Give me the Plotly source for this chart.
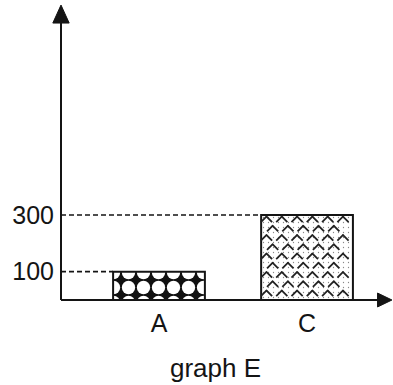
import plotly.graph_objects as go

# Data
categories = ["A", "C"]
values = [100, 300]
ytick_vals = [100, 300]
ytick_text = ["100", "300"]
caption = "graph E"

INK = "#141414"
FONT = "Arial, Liberation Sans, sans-serif"

# Axis geometry (data units)
bar_width = 0.62
x_pos = list(range(len(categories)))
x_range = [-0.662, 1.547]
y_range = [0, 1023.5]
px_per_x = 148.0  # plot width 327 px over the x range

fig = go.Figure()

# Bar A: white circles on black
fig.add_trace(go.Bar(
    x=[x_pos[0]], y=[values[0]], width=bar_width,
    marker=dict(
        color="black",
        line=dict(color=INK, width=2),
        pattern=dict(shape=".", fgcolor="white", bgcolor="#111111",
                     size=15, solidity=0.62, fillmode="replace"),
    ),
    showlegend=False, hoverinfo="skip",
))
# Bar C: light speckle fill
fig.add_trace(go.Bar(
    x=[x_pos[1]], y=[values[1]], width=bar_width,
    marker=dict(
        color="white",
        line=dict(color=INK, width=2),
        pattern=dict(shape=".", fgcolor="#888888", bgcolor="white",
                     size=5, solidity=0.05, fillmode="replace"),
    ),
    showlegend=False, hoverinfo="skip",
))

# Wave texture inside bar C: rows of small "^" strokes, staggered
n_rows, n_cols = 9, 6
cx, cv = x_pos[1], values[1]
half = 2.6 / px_per_x
sx, sy, sym = [], [], []
for i in range(n_rows):
    shift = 0.4 if i % 2 else 0.0
    yy = cv * (i + 0.75) / (n_rows + 0.2)
    for j in range(n_cols):
        fx = (j + 0.35 + shift) / n_cols
        if fx > 0.9:
            continue
        xc = cx - bar_width / 2 + bar_width * fx
        sx += [xc - half, xc + half]
        sy += [yy, yy]
        sym += ["line-ne", "line-nw"]
fig.add_trace(go.Scatter(
    x=sx, y=sy, mode="markers",
    marker=dict(symbol=sym, size=6, color="#222222",
                line=dict(width=1.8, color="#222222")),
    showlegend=False, hoverinfo="skip",
))

# Dashed guide lines from the y axis to the bar tops
for xp, v in zip(x_pos, values):
    fig.add_shape(type="line", xref="x", yref="y",
                  x0=x_range[0], x1=xp - bar_width / 2, y0=v, y1=v,
                  line=dict(color=INK, width=1.6, dash="5px,3px"))

# Axis lines with arrowheads (paper coordinates)
fig.add_shape(type="line", xref="paper", yref="paper",
              x0=0, x1=0, y0=0, y1=0.965, line=dict(color=INK, width=2))
fig.add_shape(type="path", xref="paper", yref="paper",
              path="M -0.025,0.955 L 0.025,0.955 L 0,1.017 Z",
              fillcolor=INK, line=dict(color=INK, width=1))
fig.add_shape(type="line", xref="paper", yref="paper",
              x0=0, x1=0.975, y0=0, y1=0, line=dict(color=INK, width=2))
fig.add_shape(type="path", xref="paper", yref="paper",
              path="M 0.968,-0.024 L 0.968,0.024 L 1.012,0 Z",
              fillcolor=INK, line=dict(color=INK, width=1))

fig.add_annotation(text=caption, xref="paper", yref="paper",
                   x=0.474, y=-0.234, xanchor="center", yanchor="middle",
                   showarrow=False, font=dict(family=FONT, size=26, color=INK))

fig.update_layout(
    width=393, height=385,
    margin=dict(l=61, r=5, t=10, b=85),
    paper_bgcolor="white", plot_bgcolor="white",
    barmode="overlay",
    font=dict(family=FONT, size=25, color=INK),
    xaxis=dict(range=x_range, tickvals=x_pos, ticktext=categories,
               showgrid=False, zeroline=False, showline=False,
               ticks="", ticklabelstandoff=6, fixedrange=True),
    yaxis=dict(range=y_range, tickvals=ytick_vals, ticktext=ytick_text,
               showgrid=False, zeroline=False, showline=False,
               ticks="", ticklabelstandoff=6, fixedrange=True),
)

fig.write_html("out.html")
